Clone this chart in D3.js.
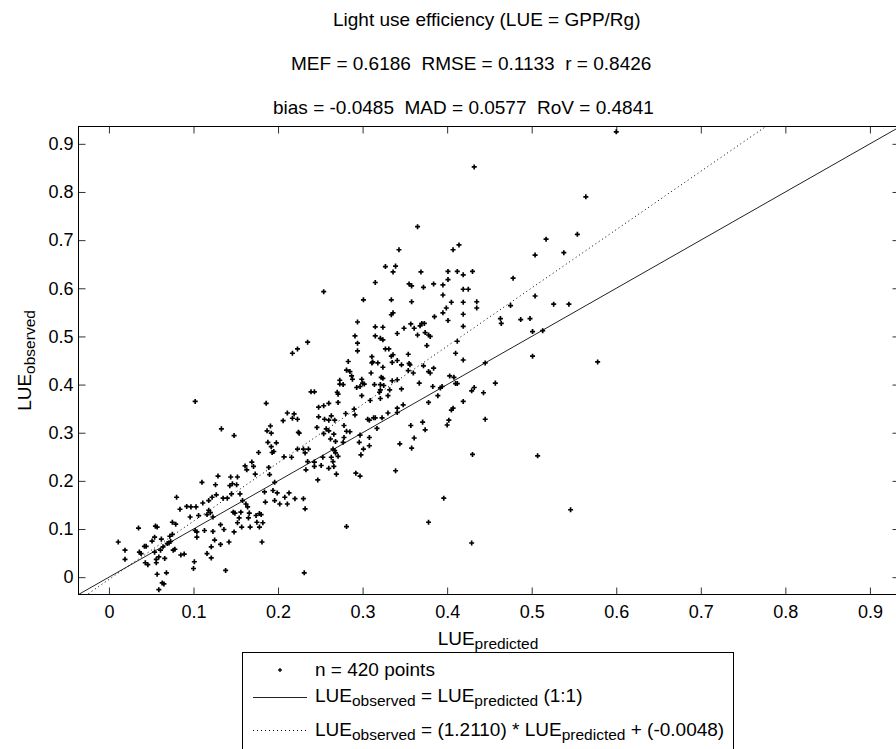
<!DOCTYPE html>
<html>
<head>
<meta charset="utf-8">
<script src="https://cdn.jsdelivr.net/npm/d3@7"></script>
<style>
  html, body { margin: 0; padding: 0; background: #fff; }
  svg { display: block; font-family: "Liberation Sans", Arial, sans-serif; }
  text { white-space: pre; }
</style>
</head>
<body>
<svg id="chart" width="896" height="749"></svg>
<script>
"use strict";

// ---- data ----
const titleLines = [
  "Light use efficiency (LUE = GPP/Rg)",
  "MEF = 0.6186  RMSE = 0.1133  r = 0.8426",
  "bias = -0.0485  MAD = 0.0577  RoV = 0.4841",
];
const xTicks = [0, 0.1, 0.2, 0.3, 0.4, 0.5, 0.6, 0.7, 0.8, 0.9];
const yTicks = [0, 0.1, 0.2, 0.3, 0.4, 0.5, 0.6, 0.7, 0.8, 0.9];
const xLimits = [-0.036, 0.935];
const yLimits = [-0.036, 0.936];
const fitSlope = 1.211;
const fitIntercept = -0.0048;

// [LUE predicted, LUE observed]
const points = [
  // low range
  [0.011,0.073],[0.019,0.056],[0.019,0.037],[0.035,0.102],[0.036,0.052],[0.038,0.049],[0.042,0.064],[0.044,0.064],
  [0.043,0.030],[0.046,0.026],[0.051,0.075],[0.054,0.083],[0.055,0.106],[0.057,0.104],[0.054,0.052],[0.056,0.037],
  [0.056,0.030],[0.057,0.006],[0.059,0.042],[0.059,-0.026],[0.062,0.079],[0.061,0.056],[0.063,-0.012],[0.065,-0.014],
  [0.064,0.063],[0.066,0.039],[0.068,0.009],[0.069,0.070],[0.071,0.071],[0.072,0.085],[0.073,0.074],[0.075,0.089],
  [0.075,0.114],[0.079,0.110],[0.076,0.056],[0.078,0.058],[0.080,0.166],[0.084,0.141],[0.085,0.046],[0.089,0.048],
  [0.092,0.147],[0.097,0.146],[0.096,0.125],[0.103,0.146],[0.100,0.018],[0.101,0.032],[0.102,0.365],[0.102,0.097],
  [0.104,0.094],[0.104,0.083],[0.106,0.128],[0.110,0.197],[0.111,0.154],[0.113,0.097],[0.116,0.130],[0.116,0.049],
  [0.118,0.139],[0.118,0.159],[0.120,0.134],[0.121,0.040],[0.122,0.166],[0.123,0.125],[0.121,0.063],[0.123,0.095],
  [0.125,0.077],[0.126,0.192],[0.127,0.171],[0.129,0.210],[0.132,0.068],[0.132,0.109],[0.133,0.308],[0.135,0.164],
  [0.136,0.099],[0.138,0.014],[0.140,0.164],[0.142,0.073],[0.143,0.190],[0.144,0.208],[0.145,0.173],[0.146,0.194],
  [0.147,0.135],[0.148,0.094],[0.148,0.294],[0.149,0.133],[0.152,0.208],[0.151,0.192],[0.152,0.113],[0.154,0.123],
  [0.155,0.173],[0.156,0.135],[0.157,0.104],[0.158,0.159],[0.161,0.231],[0.162,0.152],[0.163,0.223],[0.164,0.146],
  [0.165,0.123],[0.166,0.133],[0.167,0.104],[0.169,0.239],[0.171,0.230],[0.173,0.214],[0.174,0.128],[0.175,0.114],
  [0.178,0.104],[0.177,0.259],[0.178,0.132],[0.180,0.130],[0.181,0.073],[0.182,0.113],[0.184,0.177],[0.185,0.156],
  [0.186,0.361],[0.187,0.304],[0.188,0.280],[0.189,0.228],[0.190,0.213],[0.192,0.299],[0.191,0.314],[0.192,0.271],
  [0.193,0.259],[0.194,0.180],[0.195,0.261],[0.196,0.197],[0.196,0.159],[0.198,0.279],[0.199,0.175],[0.202,0.152],
  [0.206,0.325],[0.207,0.250],[0.208,0.166],[0.211,0.152],[0.213,0.175],[0.216,0.249],[0.217,0.330],[0.219,0.339],
  [0.220,0.163],[0.223,0.474],[0.223,0.328],[0.224,0.301],[0.217,0.465],[0.225,0.299],[0.211,0.341],[0.223,0.266],
  // middle range
  [0.235,0.488],[0.291,0.501],[0.294,0.486],[0.294,0.470],[0.315,0.501],[0.321,0.496],[0.324,0.493],[0.341,0.506],
  [0.327,0.474],[0.331,0.474],[0.336,0.462],[0.334,0.459],[0.311,0.458],[0.311,0.445],[0.318,0.445],[0.324,0.436],
  [0.335,0.446],[0.341,0.450],[0.346,0.441],[0.354,0.463],[0.355,0.444],[0.356,0.441],[0.365,0.503],[0.374,0.508],
  [0.378,0.503],[0.380,0.500],[0.376,0.481],[0.372,0.439],[0.378,0.427],[0.380,0.424],[0.384,0.434],[0.354,0.429],
  [0.360,0.424],[0.283,0.448],[0.285,0.427],[0.287,0.418],[0.281,0.430],[0.273,0.409],[0.273,0.401],[0.270,0.384],
  [0.271,0.380],[0.277,0.400],[0.288,0.411],[0.290,0.349],[0.291,0.337],[0.299,0.411],[0.300,0.403],[0.302,0.401],
  [0.293,0.394],[0.297,0.396],[0.299,0.377],[0.310,0.424],[0.312,0.447],[0.314,0.400],[0.321,0.400],[0.321,0.389],
  [0.320,0.384],[0.322,0.415],[0.324,0.413],[0.325,0.398],[0.309,0.367],[0.321,0.371],[0.330,0.377],[0.332,0.389],
  [0.335,0.408],[0.341,0.410],[0.346,0.391],[0.348,0.358],[0.341,0.342],[0.341,0.351],[0.330,0.341],[0.323,0.331],
  [0.317,0.309],[0.315,0.331],[0.313,0.331],[0.306,0.328],[0.308,0.326],[0.308,0.290],[0.308,0.273],[0.301,0.266],
  [0.296,0.280],[0.298,0.254],[0.297,0.295],[0.292,0.216],[0.297,0.210],[0.280,0.340],[0.278,0.315],[0.285,0.302],
  [0.281,0.303],[0.278,0.290],[0.277,0.280],[0.267,0.326],[0.266,0.297],[0.268,0.282],[0.265,0.266],[0.267,0.263],
  [0.262,0.287],[0.260,0.226],[0.263,0.249],[0.265,0.240],[0.269,0.214],[0.271,0.251],[0.257,0.308],[0.255,0.328],
  [0.248,0.353],[0.248,0.333],[0.246,0.311],[0.251,0.232],[0.253,0.249],[0.247,0.202],[0.243,0.239],[0.243,0.230],
  [0.236,0.266],[0.230,0.266],[0.232,0.258],[0.235,0.240],[0.233,0.223],[0.239,0.385],[0.243,0.385],[0.260,0.361],
  [0.254,0.356],[0.260,0.304],[0.260,0.326],[0.230,0.163],[0.232,0.142],[0.281,0.105],[0.231,0.009],[0.339,0.221],
  [0.254,0.298],[0.263,0.335],[0.266,0.230],[0.268,0.258],[0.271,0.363],
  [0.344,0.277],[0.357,0.315],[0.358,0.268],[0.361,0.289],[0.367,0.403],[0.371,0.322],[0.374,0.306],[0.378,0.363],
  [0.378,0.114],[0.383,0.396],[0.389,0.377],[0.392,0.393],[0.394,0.396],[0.396,0.164],[0.403,0.418],[0.405,0.347],
  [0.407,0.351],[0.408,0.415],[0.410,0.402],[0.400,0.316],[0.402,0.326],[0.412,0.402],[0.410,0.465],[0.412,0.490],
  [0.419,0.451],[0.419,0.365],[0.429,0.387],[0.432,0.394],[0.430,0.255],[0.429,0.071],[0.443,0.383],[0.445,0.445],
  [0.445,0.328],[0.457,0.403],[0.501,0.459],[0.501,0.510],[0.513,0.512],[0.507,0.252],[0.546,0.140],[0.578,0.447],
  // upper range
  [0.254,0.593],[0.301,0.576],[0.294,0.530],[0.315,0.612],[0.327,0.645],[0.336,0.634],[0.339,0.646],[0.343,0.680],
  [0.334,0.576],[0.336,0.549],[0.334,0.545],[0.315,0.520],[0.324,0.519],[0.349,0.517],[0.355,0.609],[0.358,0.605],
  [0.358,0.572],[0.357,0.526],[0.361,0.517],[0.368,0.522],[0.370,0.527],[0.372,0.602],[0.365,0.728],[0.369,0.634],
  [0.373,0.527],[0.384,0.609],[0.385,0.541],[0.395,0.586],[0.395,0.549],[0.395,0.607],[0.399,0.559],[0.401,0.635],
  [0.401,0.618],[0.401,0.533],[0.405,0.571],[0.407,0.680],[0.414,0.690],[0.412,0.635],[0.419,0.628],[0.419,0.598],
  [0.419,0.571],[0.419,0.546],[0.419,0.521],[0.425,0.598],[0.430,0.635],[0.432,0.852],[0.435,0.572],[0.435,0.559],
  [0.463,0.537],[0.464,0.527],[0.475,0.564],[0.478,0.621],[0.487,0.535],[0.498,0.537],[0.504,0.669],[0.504,0.584],
  [0.517,0.702],[0.526,0.567],[0.538,0.674],[0.544,0.567],[0.554,0.712],[0.564,0.790],[0.600,0.925],
];

const legendRows = [
  [{ t: "n = 420 points" }],
  [{ t: "LUE" }, { t: "observed", sub: true }, { t: " = LUE" }, { t: "predicted", sub: true }, { t: " (1:1)" }],
  [{ t: "LUE" }, { t: "observed", sub: true }, { t: " = (1.2110) * LUE" }, { t: "predicted", sub: true }, { t: " + (-0.0048)" }],
];

(function () {
  const svg = d3.select("#chart");
  const font = "'Liberation Sans', Arial, sans-serif";

  const x = d3.scaleLinear().domain(xLimits).range([78.5, 899.5]);
  const y = d3.scaleLinear().domain(yLimits).range([594.5, 126.5]);
  const [x0, x1] = x.range();
  const [y1, y0] = y.range();

  svg.append("rect").attr("width", 896).attr("height", 749).attr("fill", "#fff");

  // Titles (three lines)
  const titleX = [333, 291, 273];
  svg
    .append("g")
    .selectAll("text")
    .data(titleLines)
    .join("text")
    .attr("x", (d, i) => titleX[i])
    .attr("y", (d, i) => 26 + i * 44)
    .attr("font-size", 19)
    .attr("fill", "#000")
    .text((d) => d);

  svg
    .append("clipPath")
    .attr("id", "plot-clip")
    .append("rect")
    .attr("x", x0)
    .attr("y", y0)
    .attr("width", x1 - x0)
    .attr("height", y1 - y0);

  // Axes with inward ticks on all four sides
  const styleAxis = (g) => {
    g.attr("font-size", 18).attr("font-family", font).attr("color", "#333");
    g.select(".domain").remove();
    g.selectAll("text").attr("fill", "#000");
  };
  svg
    .append("g")
    .attr("transform", `translate(0,${y1})`)
    .call(d3.axisBottom(x).tickValues(xTicks).tickSize(-7).tickPadding(11).tickFormat((d) => d))
    .call(styleAxis);
  svg
    .append("g")
    .attr("transform", `translate(0,${y0})`)
    .call(d3.axisTop(x).tickValues(xTicks).tickSize(-7).tickFormat(""))
    .call(styleAxis);
  svg
    .append("g")
    .attr("transform", `translate(${x0},0)`)
    .call(d3.axisLeft(y).tickValues(yTicks).tickSize(-7).tickPadding(5).tickFormat((d) => d))
    .call(styleAxis);
  svg
    .append("g")
    .attr("transform", `translate(${x1},0)`)
    .call(d3.axisRight(y).tickValues(yTicks).tickSize(-7).tickFormat(""))
    .call(styleAxis);

  // 1:1 and fitted lines
  const line = d3.line().x((d) => x(d[0])).y((d) => y(d[1]));
  const plot = svg.append("g").attr("clip-path", "url(#plot-clip)");
  plot
    .append("path")
    .attr("d", line([[xLimits[0], xLimits[0]], [xLimits[1], xLimits[1]]]))
    .attr("fill", "none")
    .attr("stroke", "#222")
    .attr("stroke-width", 1);
  plot
    .append("path")
    .attr("d", line(xLimits.map((v) => [v, fitSlope * v + fitIntercept])))
    .attr("fill", "none")
    .attr("stroke", "#000")
    .attr("stroke-width", 1)
    .attr("stroke-dasharray", "1,3");

  // Scatter points
  const marker = d3.symbol(d3.symbolCross, 14);
  plot
    .append("g")
    .selectAll("path")
    .data(points)
    .join("path")
    .attr("transform", (d) => `translate(${x(d[0])},${y(d[1])})`)
    .attr("d", marker)
    .attr("fill", "#000");

  // Box
  svg
    .append("rect")
    .attr("x", x0)
    .attr("y", y0)
    .attr("width", x1 - x0)
    .attr("height", y1 - y0)
    .attr("fill", "none")
    .attr("stroke", "#000")
    .attr("stroke-width", 1);

  // Text with subscripts
  function richText(sel, segs) {
    segs.forEach((s, i) => {
      const prevSub = i > 0 && segs[i - 1].sub;
      let dy = 0;
      if (s.sub && !prevSub) dy = 4;
      if (!s.sub && prevSub) dy = -4;
      sel
        .append("tspan")
        .attr("dy", dy)
        .attr("font-size", s.sub ? 15.5 : 19)
        .text(s.t);
    });
  }

  svg
    .append("text")
    .attr("x", (x0 + 897.5) / 2)
    .attr("y", 645)
    .attr("text-anchor", "middle")
    .attr("font-size", 19)
    .call(richText, [{ t: "LUE" }, { t: "predicted", sub: true }]);

  svg
    .append("text")
    .attr("transform", `translate(31,${(y0 + y1) / 2}) rotate(-90)`)
    .attr("text-anchor", "middle")
    .attr("font-size", 19)
    .call(richText, [{ t: "LUE" }, { t: "observed", sub: true }]);

  // Legend
  const legend = svg.append("g");
  legend
    .append("rect")
    .attr("x", 242.5)
    .attr("y", 652.5)
    .attr("width", 491)
    .attr("height", 110)
    .attr("fill", "#fff")
    .attr("stroke", "#000")
    .attr("stroke-width", 1);
  const rowBase = [676, 702, 736];
  const rowMid = [670, 697.5, 730.5];
  legend
    .append("path")
    .attr("transform", `translate(280,${rowMid[0]})`)
    .attr("d", d3.symbol(d3.symbolCross, 8))
    .attr("fill", "#000");
  legend
    .append("line")
    .attr("x1", 253).attr("x2", 307)
    .attr("y1", rowMid[1]).attr("y2", rowMid[1])
    .attr("stroke", "#222");
  legend
    .append("line")
    .attr("x1", 253).attr("x2", 307)
    .attr("y1", rowMid[2]).attr("y2", rowMid[2])
    .attr("stroke", "#000")
    .attr("stroke-dasharray", "1,3");
  legendRows.forEach((segs, i) => {
    legend
      .append("text")
      .attr("x", 315)
      .attr("y", rowBase[i])
      .attr("font-size", 19)
      .call(richText, segs);
  });
})();
</script>
</body>
</html>
